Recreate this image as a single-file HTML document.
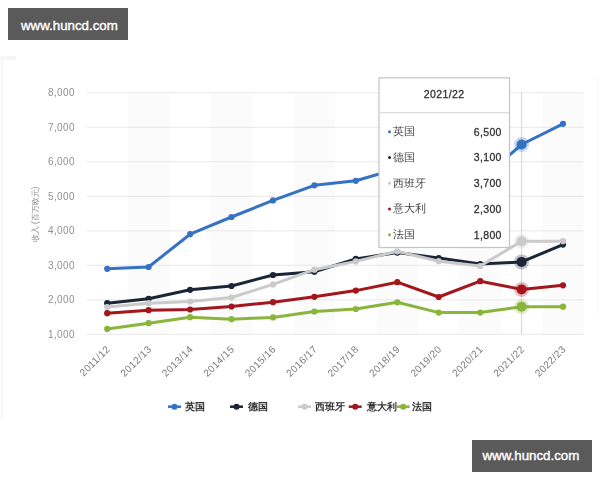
<!DOCTYPE html>
<html><head><meta charset="utf-8"><style>
html,body{margin:0;padding:0;background:#fff;width:600px;height:480px;overflow:hidden;}
body{position:relative;font-family:"Liberation Sans",sans-serif;}
.wm{position:absolute;width:120px;height:31.5px;background:#5a5a5a;color:#fff;font-size:13.3px;-webkit-text-stroke:0.4px #fff;line-height:16px;box-sizing:border-box;padding:10px 0 0 13px;}
svg{position:absolute;left:0;top:0;filter:blur(0.3px);}
.yl{font-size:10px;letter-spacing:0.4px;fill:#909090;}
.xl{font-size:10px;letter-spacing:0.4px;fill:#7a7a7a;}
.yt{font-size:8.3px;fill:#888;}
.lg{font-size:10px;font-weight:bold;fill:#333;}
.tth{font-size:10.5px;letter-spacing:0.4px;fill:#333;stroke:#333;stroke-width:0.3px;}
.ttn{font-size:10.5px;fill:#444;}
.ttv{font-size:10.5px;letter-spacing:0.35px;fill:#333;stroke:#333;stroke-width:0.3px;}
</style></head><body>
<svg width="600" height="480" viewBox="0 0 600 480">
<rect x="127.9" y="92.5" width="41.4" height="241.8" fill="#fbfbfb"/>
<rect x="210.8" y="92.5" width="41.4" height="241.8" fill="#fbfbfb"/>
<rect x="293.7" y="92.5" width="41.4" height="241.8" fill="#fbfbfb"/>
<rect x="376.6" y="92.5" width="41.4" height="241.8" fill="#fbfbfb"/>
<rect x="459.4" y="92.5" width="41.4" height="241.8" fill="#fbfbfb"/>
<rect x="542.3" y="92.5" width="41.4" height="241.8" fill="#fbfbfb"/>
<line x1="87" x2="583.5" y1="334.3" y2="334.3" stroke="#e8e8e8" stroke-width="1"/>
<text x="75" y="337.9" text-anchor="end" class="yl">1,000</text>
<line x1="87" x2="583.5" y1="299.8" y2="299.8" stroke="#e8e8e8" stroke-width="1"/>
<text x="75" y="303.4" text-anchor="end" class="yl">2,000</text>
<line x1="87" x2="583.5" y1="265.3" y2="265.3" stroke="#e8e8e8" stroke-width="1"/>
<text x="75" y="268.9" text-anchor="end" class="yl">3,000</text>
<line x1="87" x2="583.5" y1="230.8" y2="230.8" stroke="#e8e8e8" stroke-width="1"/>
<text x="75" y="234.4" text-anchor="end" class="yl">4,000</text>
<line x1="87" x2="583.5" y1="196.3" y2="196.3" stroke="#e8e8e8" stroke-width="1"/>
<text x="75" y="199.9" text-anchor="end" class="yl">5,000</text>
<line x1="87" x2="583.5" y1="161.8" y2="161.8" stroke="#e8e8e8" stroke-width="1"/>
<text x="75" y="165.4" text-anchor="end" class="yl">6,000</text>
<line x1="87" x2="583.5" y1="127.3" y2="127.3" stroke="#e8e8e8" stroke-width="1"/>
<text x="75" y="130.9" text-anchor="end" class="yl">7,000</text>
<line x1="87" x2="583.5" y1="92.8" y2="92.8" stroke="#e8e8e8" stroke-width="1"/>
<text x="75" y="96.4" text-anchor="end" class="yl">8,000</text>
<line x1="521.6" x2="521.6" y1="92.5" y2="334.3" stroke="#d6d6d6" stroke-width="1"/>
<polyline points="107.2,268.8 148.6,267.0 190.1,234.2 231.5,217.0 273.0,200.4 314.4,185.3 355.8,180.8 397.3,168.7 438.7,192.8 480.2,180.8 521.6,144.5 563.0,123.8" fill="none" stroke="#3572c4" stroke-width="3" stroke-linejoin="round" stroke-linecap="round"/>
<circle cx="107.2" cy="268.8" r="3.1" fill="#3572c4"/>
<circle cx="148.6" cy="267.0" r="3.1" fill="#3572c4"/>
<circle cx="190.1" cy="234.2" r="3.1" fill="#3572c4"/>
<circle cx="231.5" cy="217.0" r="3.1" fill="#3572c4"/>
<circle cx="273.0" cy="200.4" r="3.1" fill="#3572c4"/>
<circle cx="314.4" cy="185.3" r="3.1" fill="#3572c4"/>
<circle cx="355.8" cy="180.8" r="3.1" fill="#3572c4"/>
<circle cx="397.3" cy="168.7" r="3.1" fill="#3572c4"/>
<circle cx="438.7" cy="192.8" r="3.1" fill="#3572c4"/>
<circle cx="480.2" cy="180.8" r="3.1" fill="#3572c4"/>
<circle cx="521.6" cy="144.5" r="7.5" fill="#3572c4" fill-opacity="0.28"/>
<circle cx="521.6" cy="144.5" r="5" fill="#3572c4"/>
<circle cx="563.0" cy="123.8" r="3.1" fill="#3572c4"/>
<polyline points="107.2,303.2 148.6,298.8 190.1,289.8 231.5,286.0 273.0,275.0 314.4,271.7 355.8,258.9 397.3,252.6 438.7,258.0 480.2,264.1 521.6,261.9 563.0,244.6" fill="none" stroke="#1a2636" stroke-width="3" stroke-linejoin="round" stroke-linecap="round"/>
<circle cx="107.2" cy="303.2" r="3.1" fill="#1a2636"/>
<circle cx="148.6" cy="298.8" r="3.1" fill="#1a2636"/>
<circle cx="190.1" cy="289.8" r="3.1" fill="#1a2636"/>
<circle cx="231.5" cy="286.0" r="3.1" fill="#1a2636"/>
<circle cx="273.0" cy="275.0" r="3.1" fill="#1a2636"/>
<circle cx="314.4" cy="271.7" r="3.1" fill="#1a2636"/>
<circle cx="355.8" cy="258.9" r="3.1" fill="#1a2636"/>
<circle cx="397.3" cy="252.6" r="3.1" fill="#1a2636"/>
<circle cx="438.7" cy="258.0" r="3.1" fill="#1a2636"/>
<circle cx="480.2" cy="264.1" r="3.1" fill="#1a2636"/>
<circle cx="521.6" cy="261.9" r="7.5" fill="#1a2636" fill-opacity="0.28"/>
<circle cx="521.6" cy="261.9" r="5" fill="#1a2636"/>
<circle cx="563.0" cy="244.6" r="3.1" fill="#1a2636"/>
<polyline points="107.2,307.0 148.6,303.2 190.1,301.5 231.5,297.5 273.0,284.4 314.4,269.7 355.8,261.4 397.3,251.3 438.7,261.2 480.2,266.0 521.6,241.2 563.0,241.2" fill="none" stroke="#cacaca" stroke-width="3" stroke-linejoin="round" stroke-linecap="round"/>
<circle cx="107.2" cy="307.0" r="3.1" fill="#cacaca"/>
<circle cx="148.6" cy="303.2" r="3.1" fill="#cacaca"/>
<circle cx="190.1" cy="301.5" r="3.1" fill="#cacaca"/>
<circle cx="231.5" cy="297.5" r="3.1" fill="#cacaca"/>
<circle cx="273.0" cy="284.4" r="3.1" fill="#cacaca"/>
<circle cx="314.4" cy="269.7" r="3.1" fill="#cacaca"/>
<circle cx="355.8" cy="261.4" r="3.1" fill="#cacaca"/>
<circle cx="397.3" cy="251.3" r="3.1" fill="#cacaca"/>
<circle cx="438.7" cy="261.2" r="3.1" fill="#cacaca"/>
<circle cx="480.2" cy="266.0" r="3.1" fill="#cacaca"/>
<circle cx="521.6" cy="241.2" r="7.5" fill="#cacaca" fill-opacity="0.28"/>
<circle cx="521.6" cy="241.2" r="5" fill="#cacaca"/>
<circle cx="563.0" cy="241.2" r="3.1" fill="#cacaca"/>
<polyline points="107.2,313.2 148.6,310.2 190.1,309.5 231.5,306.5 273.0,302.2 314.4,296.8 355.8,290.6 397.3,282.2 438.7,297.0 480.2,281.2 521.6,289.4 563.0,285.3" fill="none" stroke="#a3161c" stroke-width="3" stroke-linejoin="round" stroke-linecap="round"/>
<circle cx="107.2" cy="313.2" r="3.1" fill="#a3161c"/>
<circle cx="148.6" cy="310.2" r="3.1" fill="#a3161c"/>
<circle cx="190.1" cy="309.5" r="3.1" fill="#a3161c"/>
<circle cx="231.5" cy="306.5" r="3.1" fill="#a3161c"/>
<circle cx="273.0" cy="302.2" r="3.1" fill="#a3161c"/>
<circle cx="314.4" cy="296.8" r="3.1" fill="#a3161c"/>
<circle cx="355.8" cy="290.6" r="3.1" fill="#a3161c"/>
<circle cx="397.3" cy="282.2" r="3.1" fill="#a3161c"/>
<circle cx="438.7" cy="297.0" r="3.1" fill="#a3161c"/>
<circle cx="480.2" cy="281.2" r="3.1" fill="#a3161c"/>
<circle cx="521.6" cy="289.4" r="7.5" fill="#a3161c" fill-opacity="0.28"/>
<circle cx="521.6" cy="289.4" r="5" fill="#a3161c"/>
<circle cx="563.0" cy="285.3" r="3.1" fill="#a3161c"/>
<polyline points="107.2,328.9 148.6,323.2 190.1,317.2 231.5,319.2 273.0,317.4 314.4,311.5 355.8,309.0 397.3,302.3 438.7,312.6 480.2,312.6 521.6,306.7 563.0,306.7" fill="none" stroke="#88b53a" stroke-width="3" stroke-linejoin="round" stroke-linecap="round"/>
<circle cx="107.2" cy="328.9" r="3.1" fill="#88b53a"/>
<circle cx="148.6" cy="323.2" r="3.1" fill="#88b53a"/>
<circle cx="190.1" cy="317.2" r="3.1" fill="#88b53a"/>
<circle cx="231.5" cy="319.2" r="3.1" fill="#88b53a"/>
<circle cx="273.0" cy="317.4" r="3.1" fill="#88b53a"/>
<circle cx="314.4" cy="311.5" r="3.1" fill="#88b53a"/>
<circle cx="355.8" cy="309.0" r="3.1" fill="#88b53a"/>
<circle cx="397.3" cy="302.3" r="3.1" fill="#88b53a"/>
<circle cx="438.7" cy="312.6" r="3.1" fill="#88b53a"/>
<circle cx="480.2" cy="312.6" r="3.1" fill="#88b53a"/>
<circle cx="521.6" cy="306.7" r="7.5" fill="#88b53a" fill-opacity="0.28"/>
<circle cx="521.6" cy="306.7" r="5" fill="#88b53a"/>
<circle cx="563.0" cy="306.7" r="3.1" fill="#88b53a"/>
<text transform="translate(110.7,349.8) rotate(-45)" text-anchor="end" class="xl">2011/12</text>
<text transform="translate(152.1,349.8) rotate(-45)" text-anchor="end" class="xl">2012/13</text>
<text transform="translate(193.6,349.8) rotate(-45)" text-anchor="end" class="xl">2013/14</text>
<text transform="translate(235.0,349.8) rotate(-45)" text-anchor="end" class="xl">2014/15</text>
<text transform="translate(276.5,349.8) rotate(-45)" text-anchor="end" class="xl">2015/16</text>
<text transform="translate(317.9,349.8) rotate(-45)" text-anchor="end" class="xl">2016/17</text>
<text transform="translate(359.3,349.8) rotate(-45)" text-anchor="end" class="xl">2017/18</text>
<text transform="translate(400.8,349.8) rotate(-45)" text-anchor="end" class="xl">2018/19</text>
<text transform="translate(442.2,349.8) rotate(-45)" text-anchor="end" class="xl">2019/20</text>
<text transform="translate(483.7,349.8) rotate(-45)" text-anchor="end" class="xl">2020/21</text>
<text transform="translate(525.1,349.8) rotate(-45)" text-anchor="end" class="xl">2021/22</text>
<text transform="translate(566.5,349.8) rotate(-45)" text-anchor="end" class="xl">2022/23</text>
<text transform="translate(38,214.5) rotate(-90)" text-anchor="middle" class="yt">收入 (百万欧元)</text>
<line x1="168" x2="181" y1="406.7" y2="406.7" stroke="#3572c4" stroke-width="2.5"/>
<circle cx="174.5" cy="406.7" r="3" fill="#3572c4"/>
<text x="184.5" y="410.1" class="lg">英国</text>
<line x1="230" x2="243" y1="406.7" y2="406.7" stroke="#1a2636" stroke-width="2.5"/>
<circle cx="236.5" cy="406.7" r="3" fill="#1a2636"/>
<text x="247.5" y="410.1" class="lg">德国</text>
<line x1="298" x2="311" y1="406.7" y2="406.7" stroke="#cacaca" stroke-width="2.5"/>
<circle cx="304.5" cy="406.7" r="3" fill="#cacaca"/>
<text x="315.3" y="410.1" class="lg">西班牙</text>
<line x1="348.7" x2="361.7" y1="406.7" y2="406.7" stroke="#a3161c" stroke-width="2.5"/>
<circle cx="355.2" cy="406.7" r="3" fill="#a3161c"/>
<text x="366.8" y="410.1" class="lg">意大利</text>
<line x1="396.7" x2="409.7" y1="406.7" y2="406.7" stroke="#88b53a" stroke-width="2.5"/>
<circle cx="403.2" cy="406.7" r="3" fill="#88b53a"/>
<text x="412" y="410.1" class="lg">法国</text>
<rect x="379" y="77.8" width="130.5" height="169.7" fill="#fff" stroke="#c4c4c4" stroke-width="1.2"/>
<line x1="380" x2="509" y1="112.7" y2="112.7" stroke="#d4d4d4" stroke-width="1"/>
<text x="444.2" y="97.8" text-anchor="middle" class="tth">2021/22</text>
<circle cx="389.5" cy="131.7" r="1.5" fill="#3572c4"/>
<text x="393.4" y="135.2" class="ttn">英国</text>
<text x="501.8" y="135.5" text-anchor="end" class="ttv">6,500</text>
<circle cx="389.5" cy="157.4" r="1.5" fill="#1a2636"/>
<text x="393.4" y="160.9" class="ttn">德国</text>
<text x="501.8" y="161.2" text-anchor="end" class="ttv">3,100</text>
<circle cx="389.5" cy="183.2" r="1.5" fill="#cacaca"/>
<text x="393.4" y="186.7" class="ttn">西班牙</text>
<text x="501.8" y="187.0" text-anchor="end" class="ttv">3,700</text>
<circle cx="389.5" cy="208.9" r="1.5" fill="#a3161c"/>
<text x="393.4" y="212.4" class="ttn">意大利</text>
<text x="501.8" y="212.8" text-anchor="end" class="ttv">2,300</text>
<circle cx="389.5" cy="234.7" r="1.5" fill="#88b53a"/>
<text x="393.4" y="238.2" class="ttn">法国</text>
<text x="501.8" y="238.5" text-anchor="end" class="ttv">1,800</text>
</svg>
<div style="position:absolute;left:1px;top:56px;width:2px;height:362px;background:#f4f4f4"></div><div style="position:absolute;left:0;top:56px;width:16px;height:4px;background:#f6f6f6"></div><div style="position:absolute;left:597px;top:75px;width:1px;height:240px;background:#f8f8f8"></div>
<div class="wm" style="left:8px;top:8px;">www.huncd.com</div>
<div class="wm" style="left:472px;top:440px;padding:8px 0 0 10.5px;">www.huncd.com</div>
</body></html>
